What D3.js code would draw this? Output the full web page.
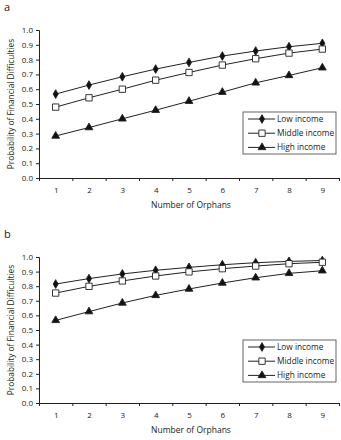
<!DOCTYPE html>
<html>
<head>
<meta charset="utf-8">
<script src="https://cdn.jsdelivr.net/npm/d3@7"></script>
<style>
  body { margin: 0; background: #fff; }
  svg text { font-family: "Open Sans", "Noto Sans", sans-serif; fill: #222; }
</style>
</head>
<body>
<svg width="341" height="440"></svg>
<script>
const orphans = [1, 2, 3, 4, 5, 6, 7, 8, 9];
const seriesNames = ["Low income", "Middle income", "High income"];
const yTicks = [0, 0.1, 0.2, 0.3, 0.4, 0.5, 0.6, 0.7, 0.8, 0.9, 1.0];

// panel a
const lowA = [0.567, 0.628, 0.684, 0.736, 0.781, 0.824, 0.858, 0.887, 0.910];
const midA = [0.479, 0.542, 0.600, 0.661, 0.713, 0.763, 0.806, 0.844, 0.871];
const highA = [0.284, 0.341, 0.400, 0.458, 0.519, 0.580, 0.643, 0.693, 0.745];
// panel b
const lowB = [0.815, 0.852, 0.884, 0.909, 0.929, 0.947, 0.961, 0.970, 0.976];
const midB = [0.753, 0.799, 0.836, 0.870, 0.898, 0.920, 0.938, 0.954, 0.964];
const highB = [0.566, 0.626, 0.685, 0.737, 0.781, 0.822, 0.858, 0.888, 0.906];

const svg = d3.select("svg");
const symbols = [
  { type: d3.symbolDiamond, size: 22, fill: "#111" },
  { type: d3.symbolSquare, size: 40, fill: "#fff" },
  { type: d3.symbolTriangle, size: 26, fill: "#111" }
];

function drawPanel(letter, top, bottom, legendTop, data) {
  const left = 39, right = 339;
  svg.append("text")
    .attr("x", 4).attr("y", top - 19)
    .attr("font-size", "11px")
    .text(letter);

  const g = svg.append("g");
  const xEdge = d3.scaleLinear().domain([0.5, 9.5]).range([left, right]);
  const y = d3.scaleLinear().domain([0, 1]).range([bottom, top]);

  // y axis
  g.append("g")
    .attr("transform", "translate(" + left + ",0)")
    .call(d3.axisLeft(y).tickValues(yTicks).tickSize(3).tickPadding(3).tickFormat(d3.format(".1f")))
    .call(a => a.selectAll("text").attr("font-size", "8px").attr("font-family", "Open Sans, sans-serif").attr("fill", "#222"))
    .call(a => a.select(".domain").attr("stroke", "#222"))
    .call(a => a.selectAll("line").attr("stroke", "#222"));

  // x axis tick marks at category edges
  g.append("g")
    .attr("transform", "translate(0," + bottom + ")")
    .call(d3.axisBottom(xEdge).tickValues(d3.range(0.5, 10, 1)).tickSize(3).tickSizeOuter(0).tickFormat(""))
    .call(a => a.select(".domain").attr("stroke", "#222").attr("stroke-width", 1.2))
    .call(a => a.selectAll("line").attr("stroke", "#222"));

  // x labels
  g.append("g")
    .attr("transform", "translate(0," + bottom + ")")
    .call(d3.axisBottom(xEdge).tickValues(orphans).tickSize(0).tickPadding(9))
    .call(a => a.select(".domain").remove())
    .call(a => a.selectAll("text").attr("font-size", "8px").attr("font-family", "Open Sans, sans-serif").attr("fill", "#222"));

  svg.append("text")
    .attr("x", (left + right) / 2 + 2).attr("y", bottom + 30)
    .attr("text-anchor", "middle")
    .attr("font-size", "8.5px")
    .text("Number of Orphans");

  svg.append("text")
    .attr("transform", "translate(14," + ((top + bottom) / 2) + ") rotate(-90)")
    .attr("text-anchor", "middle")
    .attr("font-size", "8.3px")
    .text("Probability of Financial Difficulties");

  const line = d3.line()
    .x((d, i) => xEdge(orphans[i]))
    .y(d => y(d));

  data.forEach((vals, s) => {
    g.append("path")
      .attr("d", line(vals))
      .attr("fill", "none")
      .attr("stroke", "#222")
      .attr("stroke-width", 1);
    g.selectAll(null)
      .data(vals)
      .enter()
      .append("path")
      .attr("d", d3.symbol().type(symbols[s].type).size(symbols[s].size))
      .attr("transform", (d, i) => "translate(" + xEdge(orphans[i]) + "," + y(d) + ")")
      .attr("fill", symbols[s].fill)
      .attr("stroke", "#222")
      .attr("stroke-width", 0.9);
  });

  // legend
  const lx = 243, lw = 93, lh = 42;
  const leg = svg.append("g").attr("transform", "translate(" + lx + "," + legendTop + ")");
  leg.append("rect")
    .attr("width", lw).attr("height", lh)
    .attr("fill", "#fff")
    .attr("stroke", "#555")
    .attr("stroke-width", 0.9);
  seriesNames.forEach((name, s) => {
    const ry = 7 + s * 14.2;
    leg.append("line")
      .attr("x1", 5).attr("x2", 32).attr("y1", ry).attr("y2", ry)
      .attr("stroke", "#222");
    leg.append("path")
      .attr("d", d3.symbol().type(symbols[s].type).size(symbols[s].size))
      .attr("transform", "translate(19," + ry + ")")
      .attr("fill", symbols[s].fill)
      .attr("stroke", "#222")
      .attr("stroke-width", 0.9);
    leg.append("text")
      .attr("x", 34).attr("y", ry)
      .attr("dy", "0.35em")
      .attr("font-size", "8.3px")
      .text(name);
  });
}

drawPanel("a", 30, 178, 112, [lowA, midA, highA]);
drawPanel("b", 257, 403, 340, [lowB, midB, highB]);
</script>
</body>
</html>
